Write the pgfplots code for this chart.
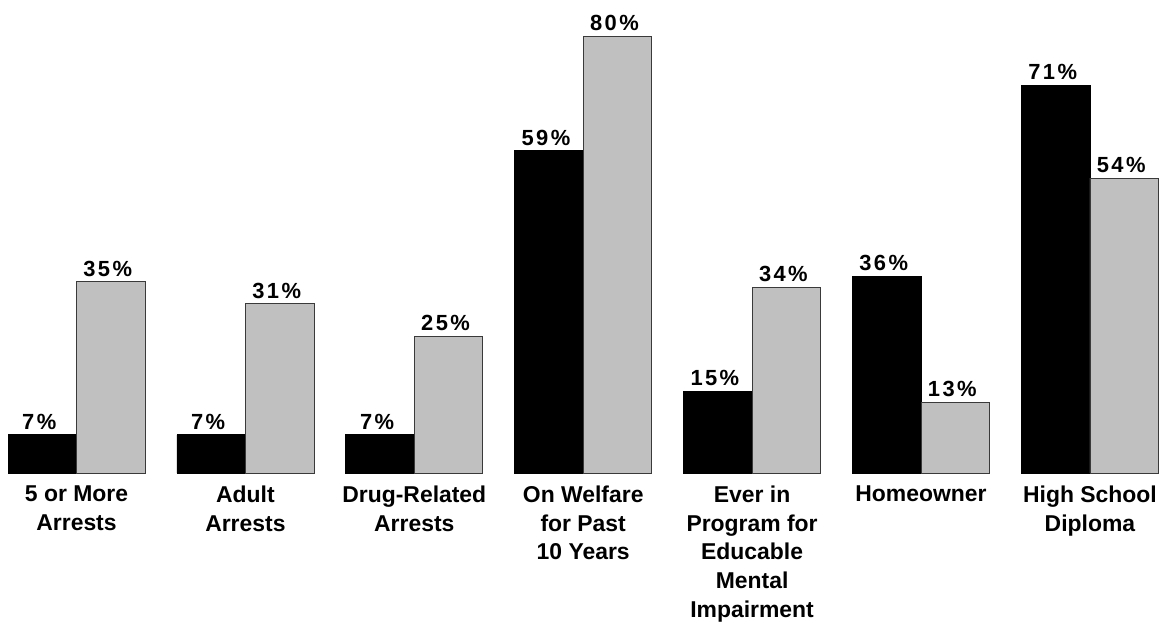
\documentclass[border=0pt]{standalone}
\usepackage{fontspec}
\setmainfont{Liberation Sans}
\usepackage{pgfplots}
\pgfplotsset{compat=1.18}
\definecolor{barGray}{HTML}{C0C0C0}
\definecolor{edgeGray}{HTML}{3A3A3A}
\begin{document}
\begin{tikzpicture}
\useasboundingbox (0,-164bp) rectangle (1160bp,473bp);
\begin{axis}[
    at={(0,0)}, anchor=south west,
    x=168.9bp, y=5.46bp,
    xmin=-0.453, xmax=6.412,
    ymin=0, ymax=86.6,
    ybar=0pt, bar width=0.4056,
    axis line style={draw=none},
    major tick length=0pt,
    ytick=\empty,
    xtick={0,1,2,3,4,5,6},
    xticklabels={{5 or More\\Arrests},{Adult\\Arrests},{Drug-Related\\Arrests},{On Welfare\\for Past\\10 Years},{Ever in\\Program for\\Educable\\Mental\\Impairment},{Homeowner},{High School\\Diploma}},
    xticklabel style={font=\fontsize{23}{29}\selectfont\bfseries, align=center, yshift=-9bp},
    clip=false,
    nodes near coords={\pgfmathprintnumber[assume math mode=true]{\pgfplotspointmeta}\%},
    every node near coord/.append style={font=\fontsize{22}{26}\selectfont\bfseries\addfontfeature{LetterSpace=11}, inner sep=2bp, yshift=3bp, xshift=-3bp},
]
\addplot[fill=black, draw=black, line width=0.8bp] coordinates {
    (0,7) (1,7) (2,7) (3,59) (4,15) (5,36) (6,71)
};
\addplot[fill=barGray, draw=edgeGray, line width=0.8bp] coordinates {
    (0,35) (1,31) (2,25) (3,80) (4,34) (5,13) (6,54)
};
\end{axis}
\end{tikzpicture}
\end{document}
